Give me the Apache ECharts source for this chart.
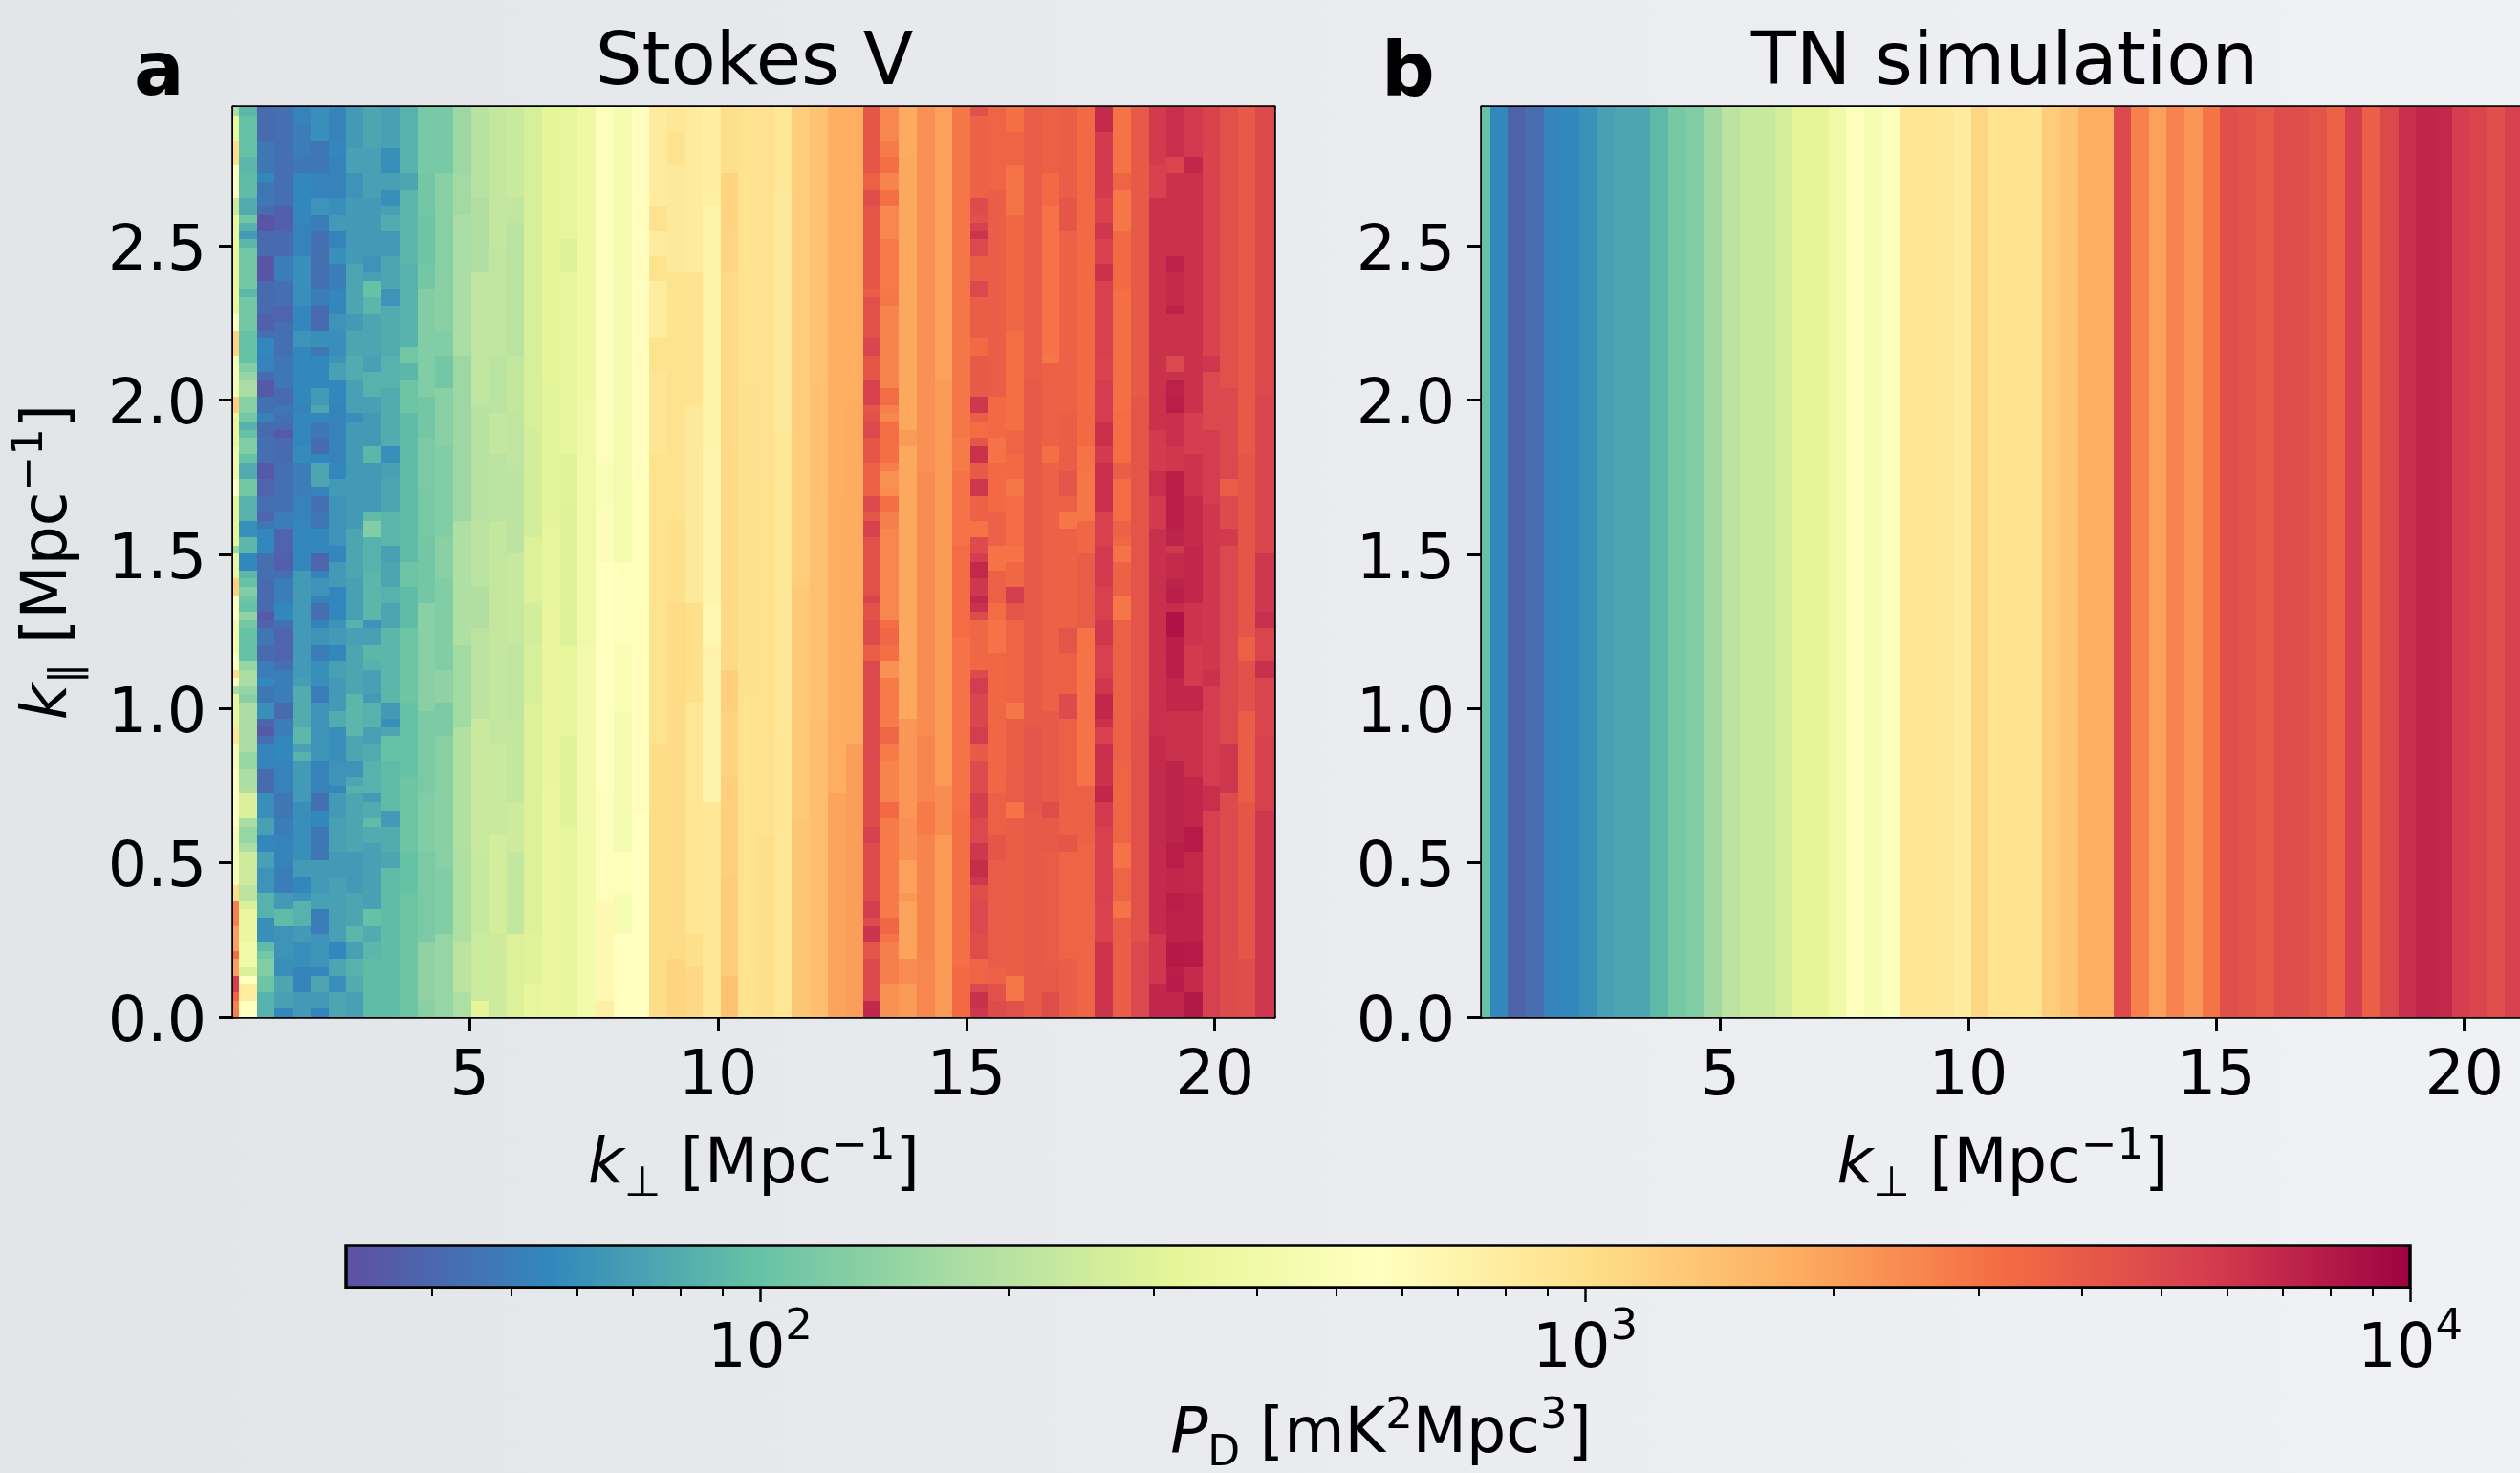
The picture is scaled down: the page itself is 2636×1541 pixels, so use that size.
<!DOCTYPE html>
<html><head><meta charset="utf-8">
<style>html,body{margin:0;padding:0;background:#e8eaee}#c{width:2636px;height:1541px}</style>
<script src="https://cdn.jsdelivr.net/npm/echarts@6/dist/echarts.min.js"></script>
</head><body><div id="c"></div>
<script>
// k_perp bin edges (Mpc^-1)
const kPerpEdges = [0.19,0.36,0.72,1.08,1.44,1.80,2.16,2.51,2.87,3.23,3.59,3.95,4.31,4.67,5.03,5.39,5.75,6.10,6.46,6.82,7.18,7.54,7.90,8.26,8.62,8.98,9.34,9.69,10.05,10.41,10.77,11.13,11.49,11.85,12.21,12.57,12.93,13.28,13.64,14.00,14.36,14.72,15.08,15.44,15.80,16.16,16.52,16.87,17.23,17.59,17.95,18.31,18.67,19.03,19.39,19.75,20.11,20.46,20.82,21.30];
const kParallelMax = 2.949;
const rowCount = 110;
// TN simulation: one P_D value per k_perp column
const simColumns = [100,56,38.5,43,54,56,61,71,75,75,91,115,125,163,210,234,234,264,316,316,398,546,470,527,890,890,865,813,1120,942,970,940,1260,1410,1780,1780,4900,2660,2000,2570,2170,2980,4570,4365,4100,4730,4600,4300,3620,5640,3760,4900,6500,7080,6900,5640,5200,4570,5500];
// Stokes V: per column, pairs of (row from top where the value starts, P_D value)
const stokesRuns = [
[0,177,1,350,4,1000,7,560,11,250,13,350,25,560,27,1120,30,470,35,1180,37,350,41,398,45,560,47,316,53,158,54,350,57,1180,59,560,62,420,66,560,68,1000,69,560,70,177,71,350,75,890,77,470,80,560,87,470,94,1000,96,2660,99,2000,102,3160,103,2000,105,5620,107,3540,108,2660],
[0,89,1,100,6,89,8,94,11,79,13,112,14,84,15,67,16,89,17,112,22,89,23,112,27,100,31,125,32,149,33,177,35,133,37,112,38,84,39,100,40,125,42,100,43,79,45,112,47,84,50,60,52,89,54,56,56,89,57,100,58,125,59,106,60,100,61,141,62,112,63,100,67,149,68,177,70,149,71,133,72,177,78,149,80,177,82,188,83,281,86,177,87,149,89,177,90,250,94,210,96,281,97,355,101,398,104,281,105,562,106,800,108,562],
[0,42,4,47,8,56,9,47,12,42,13,33,15,42,18,33,21,42,25,37,27,44,28,56,30,53,32,42,33,35,35,44,37,53,38,42,40,44,43,35,45,39,47,44,49,39,50,47,51,56,54,44,57,42,61,35,62,39,63,47,65,42,67,50,69,56,70,47,72,60,74,39,75,35,76,44,77,53,80,42,83,60,86,71,88,56,90,71,92,63,95,84,98,60,101,94,102,112,103,125,105,106,107,84],
[0,44,12,37,15,42,18,50,21,44,24,39,26,44,30,47,34,42,36,47,37,44,38,42,39,35,40,42,43,44,49,50,51,39,54,37,56,44,57,50,60,56,62,44,63,39,67,44,68,50,72,42,74,50,76,56,79,53,83,47,86,50,88,53,92,50,95,67,97,94,99,63,103,60,105,75,107,71,109,56],
[0,53,2,50,6,47,8,56,14,53,18,60,24,56,27,63,29,56,36,53,37,56,41,58,43,50,47,53,50,56,56,67,69,70,70,80,75,90,77,72,78,85,79,67,84,60,91,67,93,56,95,63,96,84,99,67,101,60,104,53,107,67],
[0,60,4,47,8,53,11,63,13,50,15,44,22,50,24,42,27,60,29,47,30,56,34,67,36,75,37,56,38,47,40,42,42,56,43,75,46,53,47,44,49,47,51,56,54,39,56,53,57,63,59,53,60,44,62,53,63,63,65,50,67,60,70,50,72,63,79,53,83,44,85,56,87,47,91,67,95,71,97,50,100,63,104,56,105,75,107,67,109,53],
[0,53,4,56,6,53,11,60,13,67,15,53,17,60,19,50,22,56,25,63,27,60,30,63,31,71,33,56,36,53,43,56,45,67,47,63,53,56,55,67,58,56,62,63,63,67,65,56,67,71,69,67,73,79,75,60,79,63,82,56,83,67,86,71,90,67,93,71,101,56,103,75,105,60,107,75],
[0,67,5,71,8,63,11,67,19,75,25,67,27,75,30,79,33,71,37,60,38,67,51,75,57,71,62,84,63,71,65,75,71,89,76,75,79,63,81,75,82,84,83,75,90,67,95,75,99,89,101,71,103,84,105,79,107,71],
[0,75,5,71,11,67,18,63,20,71,21,100,23,89,25,75,30,71,32,84,35,71,37,67,41,89,43,67,49,94,50,125,52,84,56,89,62,63,63,71,65,89,67,84,68,71,71,67,72,84,75,71,77,79,79,84,83,67,84,79,86,94,87,79,89,71,97,100,99,79,101,89,103,94],
[0,71,5,60,8,71,10,60,12,71,13,79,15,67,18,75,22,63,24,79,30,84,34,79,41,60,43,71,45,75,49,89,53,71,55,75,58,84,60,75,63,89,72,67,74,60,75,75,76,100,79,94,85,67,87,79,90,75,92,94],
[0,84,8,75,10,89,19,84,29,112,31,89,33,106,37,94,55,106,58,94,63,106,72,100,81,106,90,100,95,106],
[0,116,8,112,13,106,19,112,22,125,30,125,35,112,40,119,46,116,52,112,60,133,73,119,83,125,90,119,101,141,108,133],
[0,116,8,133,27,125,30,112,34,133,41,125,52,133,57,125,68,141,72,119,76,133,92,125,100,149],
[0,158,8,165,13,177,30,158,50,185,65,165,75,190,89,185,101,210,107,180],
[0,199,11,188,20,215,36,199,50,205,58,188,63,210,74,235,90,230,100,240,108,320],
[0,225,17,215,30,205,37,225,42,205,50,225,77,235,88,260,100,250],
[0,235,11,220,14,205,30,225,37,215,44,210,54,230,65,215,74,225,84,250,90,225,100,290],
[0,270,39,260,52,290,60,260,65,270,72,290,90,285,100,300,106,330],
[0,320,33,310,50,325,60,335,82,345],
[0,330,16,290,20,325,42,300,48,295,60,290,65,325,76,300,87,325],
[0,380,35,400,65,430,86,420],
[0,530,43,480,48,510,55,560,83,540,96,640,108,760],
[0,440,20,450,39,440,55,520,65,490,73,450,90,520,95,470,100,560],
[0,570,44,530,52,540,60,580,85,560],
[0,820,12,960,15,820,18,950,21,800,28,950,32,900,42,950,77,1030],
[0,880,3,950,7,850,20,950,50,1000,60,1050,103,1150],
[0,820,20,930,36,840,60,1000,72,900,100,1000,104,1100],
[0,760,12,720,41,690,60,640,65,700,84,860],
[0,1000,8,1150,15,1120,20,1070,68,1200,73,1150,81,1220,93,1250,105,1400],
[0,950,34,980,71,950],
[0,960,46,970,88,1010],
[0,880,10,850,39,860,75,890],
[0,1240,43,1230,58,1320,86,1350],
[0,1400,33,1420,74,1470],
[0,1750,47,1780,83,1950],
[0,1780,36,1800,77,2050],
[0,4200,8,3700,10,4600,12,4200,22,3800,23,4500,28,5100,30,4200,33,5400,36,4200,37,4500,38,5000,40,4200,43,3600,47,5000,49,4300,50,5400,52,4500,59,5300,60,4400,62,4800,65,3900,67,5000,79,4800,87,5500,89,4800,96,5600,98,4800,99,6200,101,4300,103,5000,108,6800,109,7000],
[0,2500,4,2800,6,3100,8,2600,10,3100,12,2500,16,2800,22,2900,24,2600,34,3200,36,2700,37,2500,38,3100,43,2700,44,2300,46,2400,47,3100,49,2700,51,2500,62,3100,63,3400,65,3100,67,2300,69,2800,75,3400,77,2800,79,2600,84,3300,86,2800,98,3400,100,3000,101,2700,106,2300],
[0,1820,6,1860,39,2100,41,1880,74,2180,86,2300,91,2000,95,2200,96,1950,103,2400,106,2100],
[0,2300,44,2400,76,2550,84,2800,88,2600,103,2500],
[0,2000,33,2100,82,2400,88,2100],
[0,2900,40,2800,44,3000,53,3200,64,3000,85,3100,104,3300],
[0,4500,1,3600,11,4800,13,4500,14,5400,15,6200,16,5000,18,3800,21,5000,23,3800,28,3300,30,4000,35,6000,37,3800,38,3200,40,4200,41,6300,43,4000,45,6000,47,3600,50,3000,52,4800,54,5600,55,6900,57,6000,59,6900,60,6300,61,4800,62,3400,68,4800,69,5700,71,5100,75,5700,77,4000,79,4800,83,5600,86,5000,89,6000,91,6600,93,6000,94,4700,96,5000,100,4700,103,3500,106,5000,107,6400,109,6000],
[0,3500,10,3800,35,3300,40,3000,43,3300,49,3600,53,3000,56,3700,60,3200,62,3000,66,3400,83,3700,88,4200,91,3900,104,3600,106,4400,108,4800],
[0,3100,3,3500,7,3000,13,3400,27,3100,39,3500,42,3300,45,2900,47,3200,53,3000,55,3400,58,5700,60,4300,62,3500,72,2900,74,3800,81,3900,84,3000,86,3800,105,2900,108,4500],
[0,3900,33,4000,75,4300,85,4000],
[0,3700,8,3300,12,3000,30,2900,31,3700,41,3100,43,3600,73,4000,84,4700,86,4000,90,3900,104,4100,107,4700],
[0,3800,11,4200,15,3600,37,3800,44,4300,47,3700,49,2900,51,3600,63,4300,66,3700,71,4800,74,3700,85,3600,88,4200,90,3500,103,3800],
[0,3300,41,3000,44,2900,50,3400,54,3900,63,3000,82,3700,89,3500],
[0,6800,3,5800,11,5300,14,6000,16,5500,19,6300,21,5500,30,5300,33,5700,37,5600,38,6400,41,5800,43,6500,49,5400,53,5900,58,5400,62,6000,65,5500,67,5400,69,6000,71,7000,74,6300,75,5500,77,6500,79,6300,82,7000,84,5900,87,5400,96,5300,101,6200],
[0,3000,8,3500,10,2900,15,3300,22,3100,37,3200,43,3800,45,3200,50,3600,52,3400,53,3000,55,3600,59,2900,62,3700,79,3500,89,3000,92,3500,96,3000,98,3800],
[0,4000,35,4300,74,4500,101,5000],
[0,5800,7,5500,11,6300,39,5800,44,6500,47,5800,51,6400,76,6800,100,6000,106,7000],
[0,6500,6,5200,8,6300,18,7300,20,6800,24,7400,25,6300,30,5000,32,6300,33,7400,35,7600,37,6500,41,6000,44,7500,51,7200,53,6000,54,6800,57,7200,58,7500,60,6600,61,8400,64,7500,67,7600,69,7000,73,6300,79,7200,89,7600,92,7000,95,7600,97,7300,101,7900,104,7500,105,7700,107,7000],
[0,5900,6,7000,8,6300,37,5600,42,6200,47,6700,53,7000,57,7000,60,6200,65,5800,70,7000,73,6300,81,7000,87,7800,90,6900,95,7300,101,7800,104,6800,107,8000],
[0,5300,30,6000,32,5000,39,5700,48,6000,54,6000,68,6300,70,5700,82,6500,85,5500],
[0,4500,34,5000,45,3800,47,4800,51,5800,53,5000,77,6000,83,4800],
[0,4000,42,4200,64,3700,67,4400,73,3800,84,4200,103,4600],
[0,4900,35,5100,54,6000,61,6500,63,5200,67,6400,69,5200,76,5400,85,6000]
];
const xTicks = [5,10,15,20];
const yTicks = [0,0.5,1,1.5,2,2.5];
const colorMin = 31.5, colorMax = 10000;
const colorMajorTicks = [100,1000,10000];
const colorMinorTicks = [40,50,60,70,80,90,200,300,400,500,600,700,800,900,2000,3000,4000,5000,6000,7000,8000,9000];
const spectralStops = ['#5e4fa2','#3288bd','#66c2a5','#abdda4','#e6f598','#ffffbf','#fee08b','#fdae61','#f46d43','#d53e4f','#9e0142'];

const FONT = '"DejaVu Sans"';
const logMin = Math.log10(colorMin), logMax = Math.log10(colorMax);
const stopRGB = spectralStops.map(h => [1,3,5].map(i => parseInt(h.substr(i,2),16)));
function colorOf(p){
  let t = (Math.log10(p)-logMin)/(logMax-logMin);
  t = Math.max(0,Math.min(1,t))*(stopRGB.length-1);
  const i = Math.min(Math.floor(t),stopRGB.length-2), f = t-i;
  const c = stopRGB[i].map((v,j)=>Math.round(v+(stopRGB[i+1][j]-v)*f));
  return 'rgb('+c.join(',')+')';
}
function renderCell(params, api){
  const a = api.coord([api.value(0), api.value(2)]);
  const b = api.coord([api.value(1), api.value(3)]);
  const x = Math.round(a[0]), y = Math.round(a[1]);
  return {type:'rect', shape:{x, y, width:Math.round(b[0])-x, height:Math.round(b[1])-y},
    style:{fill:colorOf(api.value(4))}};
}
function renderColorbar(params, api){
  const a = api.coord([api.value(0), 1]);
  const b = api.coord([api.value(1), 0]);
  return {type:'rect', shape:{x:a[0], y:a[1], width:b[0]-a[0], height:b[1]-a[1]},
    style:{stroke:'#000', lineWidth:3.5,
      fill:new echarts.graphic.LinearGradient(0,0,1,0,spectralStops.map((c,i)=>({offset:i/(spectralStops.length-1),color:c})))}};
}
const rowTop = r => kParallelMax*(1-r/rowCount);
const stokesData = [];
stokesRuns.forEach((runs,c)=>{
  for(let i=0;i<runs.length;i+=2){
    const end = i+2<runs.length ? runs[i+2] : rowCount;
    stokesData.push([kPerpEdges[c],kPerpEdges[c+1],rowTop(runs[i]),rowTop(end),runs[i+1]]);
  }
});
const simData = simColumns.map((p,c)=>[kPerpEdges[c],kPerpEdges[c+1],kParallelMax,0,p]);

const nameRich = {
  i:{fontFamily:FONT,fontStyle:'italic',fontSize:65,color:'#000',lineHeight:84,verticalAlign:'middle'},
  n:{fontFamily:FONT,fontSize:65,color:'#000',lineHeight:84,verticalAlign:'middle'},
  sub:{fontFamily:FONT,fontSize:44,color:'#000',lineHeight:44,verticalAlign:'bottom'},
  sup:{fontFamily:FONT,fontSize:45,color:'#000',lineHeight:44,verticalAlign:'top'}
};
const LINE = {color:'#000',width:3.5};
function mainX(gridIndex,min,max){
  return {gridIndex,type:'value',position:'bottom',min,max,
    axisLine:{show:true,onZero:false,lineStyle:LINE},
    axisTick:{show:true,customValues:xTicks,length:15,lineStyle:{color:'#000',width:3}},
    axisLabel:{customValues:xTicks,fontFamily:FONT,fontSize:65,color:'#000',margin:32},
    splitLine:{show:false},
    name:'{i|k}{sub|⊥}{n| [Mpc}{sup|−1}{n|]}',nameLocation:'middle',nameGap:114,
    nameTextStyle:{rich:nameRich}};
}
function frameX(gridIndex,min,max){
  return {gridIndex,type:'value',position:'top',min,max,
    axisLine:{show:true,onZero:false,lineStyle:LINE},axisTick:{show:false},axisLabel:{show:false},splitLine:{show:false}};
}
function mainY(gridIndex,withName){
  const o = {gridIndex,type:'value',position:'left',min:0,max:kParallelMax,
    axisLine:{show:true,onZero:false,lineStyle:LINE},
    axisTick:{show:true,customValues:yTicks,length:15,lineStyle:{color:'#000',width:3}},
    axisLabel:{customValues:yTicks,fontFamily:FONT,fontSize:65,color:'#000',margin:28,verticalAlign:'top',lineHeight:16,formatter:v=>v.toFixed(1)},
    splitLine:{show:false}};
  if(withName){
    o.name='{i|k}{sub|∥}{n| [Mpc}{sup|−1}{n|]}';
    o.nameLocation='middle';
    o.nameGap=150;
    o.nameRotate=90;
    o.nameTextStyle={rich:nameRich};
  }
  return o;
}
function frameY(gridIndex){
  return {gridIndex,type:'value',position:'right',min:0,max:kParallelMax,
    axisLine:{show:true,onZero:false,lineStyle:LINE},axisTick:{show:false},axisLabel:{show:false},splitLine:{show:false}};
}
const A_MIN = 0.245, B_MIN = 0.19, K_MAX = 21.2;
const log = Math.log10;
const option = {
  animation:false,
  backgroundColor:new echarts.graphic.LinearGradient(0,0,1,0,[{offset:0,color:'#e2e5e8'},{offset:1,color:'#f0f1f5'}]),
  title:[
    {text:'Stokes V',left:784,top:24,textAlign:'center',textStyle:{fontFamily:FONT,fontSize:77,fontWeight:'normal',color:'#000'}},
    {text:'TN simulation',left:2092,top:24,textAlign:'center',textStyle:{fontFamily:FONT,fontSize:77,fontWeight:'normal',color:'#000'}},
    {text:'a',left:135,top:35,textStyle:{fontFamily:FONT,fontSize:78,fontWeight:'bold',color:'#000'}},
    {text:'b',left:1440,top:36,textStyle:{fontFamily:FONT,fontSize:78,fontWeight:'bold',color:'#000'}}
  ],
  grid:[
    {left:244,top:112,width:1089,height:952,outerBoundsMode:'none'},
    {left:1550,top:112,width:1090,height:952,outerBoundsMode:'none'},
    {left:362,top:1303,width:2159,height:44,outerBoundsMode:'none'}
  ],
  xAxis:[
    mainX(0,A_MIN,K_MAX), frameX(0,A_MIN,K_MAX),
    mainX(1,B_MIN,K_MAX), frameX(1,B_MIN,K_MAX),
    {gridIndex:2,type:'value',position:'bottom',min:logMin,max:logMax,
      axisLine:{show:false,onZero:false},
      axisTick:{show:true,customValues:colorMajorTicks.map(log),length:15,lineStyle:{color:'#000',width:2.5}},
      axisLabel:{customValues:colorMajorTicks.map(log),margin:20,formatter:v=>'{b|10}{s|'+Math.round(v)+'}',
        rich:{b:{fontFamily:FONT,fontSize:64,color:'#000',lineHeight:78,verticalAlign:'bottom'},
              s:{fontFamily:FONT,fontSize:45,color:'#000',lineHeight:44,verticalAlign:'top'}}},
      splitLine:{show:false},
      name:'{i|P}{sub|D}{n| [mK}{sup|2}{n|Mpc}{sup|3}{n|]}',nameLocation:'middle',nameGap:113,
      nameTextStyle:{rich:nameRich,padding:[0,0,0,6]}},
    {gridIndex:2,type:'value',position:'top',offset:-44,min:logMin,max:logMax,
      axisLine:{show:false,onZero:false},
      axisTick:{show:true,inside:true,customValues:colorMinorTicks.map(log),length:9,lineStyle:{color:'#000',width:2}},
      axisLabel:{show:false},splitLine:{show:false}}
  ],
  yAxis:[
    mainY(0,true), frameY(0),
    mainY(1,false), frameY(1),
    {gridIndex:2,type:'value',show:false,min:0,max:1}
  ],
  series:[
    {type:'custom',coordinateSystem:'cartesian2d',xAxisIndex:0,yAxisIndex:0,clip:true,silent:true,progressive:0,renderItem:renderCell,data:stokesData},
    {type:'custom',coordinateSystem:'cartesian2d',xAxisIndex:2,yAxisIndex:2,clip:true,silent:true,progressive:0,renderItem:renderCell,data:simData},
    {type:'custom',coordinateSystem:'cartesian2d',xAxisIndex:4,yAxisIndex:4,silent:true,renderItem:renderColorbar,data:[[logMin,logMax]]}
  ]
};
const chart = echarts.init(document.getElementById('c'),null,{renderer:'canvas'});
chart.setOption(option);
</script>
</body></html>
